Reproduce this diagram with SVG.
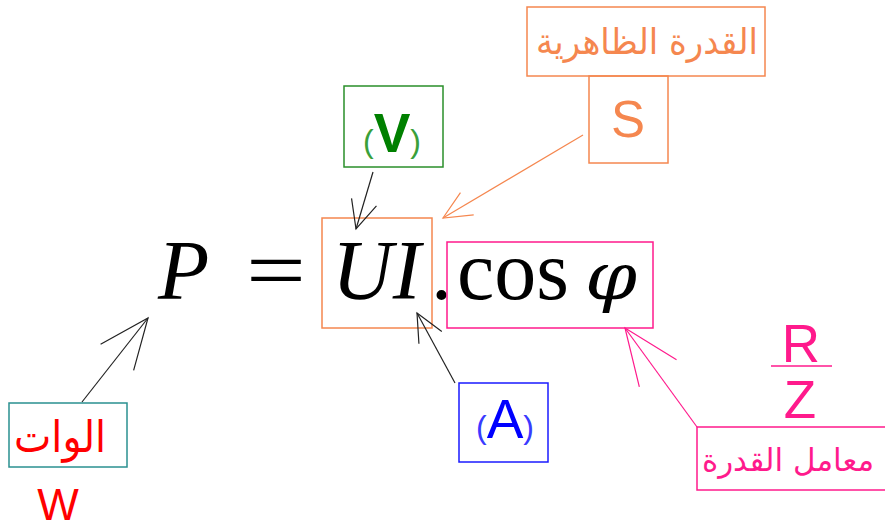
<svg xmlns="http://www.w3.org/2000/svg" width="885" height="529" viewBox="0 0 885 529">
<style>
.box{fill:none;stroke-width:1.5}
.math{font-family:"Liberation Serif","Times New Roman",serif;font-size:84px;fill:#000}
.it{font-style:italic}
.sans{font-family:"Liberation Sans",Arial,sans-serif}
.ar{font-family:"DejaVu Sans","Noto Sans",sans-serif}
.conn{fill:none;stroke-width:1.2}
</style>
<defs>
<marker id="hs-black" markerUnits="userSpaceOnUse" markerWidth="32" markerHeight="30" refX="30" refY="15" orient="auto" viewBox="0 0 32 30"><path d="M2,2 L30,15 L2,28" fill="none" stroke="#222" stroke-width="1.2"/></marker>
<marker id="hs-orange" markerUnits="userSpaceOnUse" markerWidth="32" markerHeight="30" refX="30" refY="15" orient="auto" viewBox="0 0 32 30"><path d="M2,2 L30,15 L2,28" fill="none" stroke="#f5874f" stroke-width="1.2"/></marker>
<marker id="hl-black" markerUnits="userSpaceOnUse" markerWidth="54" markerHeight="48" refX="52" refY="24" orient="auto" viewBox="0 0 54 48"><path d="M2,3 L52,24 L2,45" fill="none" stroke="#222" stroke-width="1.2"/></marker>
<marker id="hl-pink" markerUnits="userSpaceOnUse" markerWidth="60" markerHeight="52" refX="58" refY="26" orient="auto" viewBox="0 0 60 52"><path d="M2,3 L58,26 L2,49" fill="none" stroke="#ff1a8c" stroke-width="1.2"/></marker>
</defs>
<rect width="885" height="529" fill="#fff"/>

<g id="formula">
<text class="math it" x="158" y="299">P</text>
<text class="math" x="246" y="299" textLength="60" lengthAdjust="spacingAndGlyphs">=</text>
<text class="math it" x="332" y="299">UI</text>
<text class="math" x="431" y="299">.</text>
<text class="math" x="457" y="299">cos</text>
<text x="585" y="299" font-family="'DejaVu Serif',serif" font-style="italic" font-size="66" fill="#000" textLength="52" lengthAdjust="spacingAndGlyphs">φ</text>
</g>

<g id="node-apparent-label">
<rect class="box" x="527" y="7" width="238" height="69" stroke="#f5874f"/>
<text class="ar" x="647" y="54" font-size="36" fill="#f5874f" text-anchor="middle" textLength="222" lengthAdjust="spacingAndGlyphs" direction="rtl">القدرة الظاهرية</text>
</g>
<g id="node-S">
<rect class="box" x="589" y="76" width="79" height="87" stroke="#f5874f"/>
<text class="sans" x="628" y="137" font-size="51" fill="#f5874f" text-anchor="middle">S</text>
</g>
<g id="node-V">
<rect class="box" x="344" y="86" width="99" height="81" stroke="#2a8f2a"/>
<text class="sans" x="392" y="152" text-anchor="middle" fill="#008000"><tspan font-size="32" fill="#3aa03a">(</tspan><tspan font-size="55" font-weight="bold">V</tspan><tspan font-size="32" fill="#3aa03a">)</tspan></text>
</g>
<g id="node-UI">
<rect class="box" x="322" y="218" width="110" height="110" stroke="#f5874f"/>
</g>
<g id="node-cos">
<rect class="box" x="447" y="242" width="206" height="86" stroke="#ff1a8c"/>
</g>
<g id="node-A">
<rect class="box" x="459" y="383" width="89" height="79" stroke="#1a1aff"/>
<text class="sans" x="505" y="438" text-anchor="middle" fill="#0000ff"><tspan font-size="32" fill="#3a3aff">(</tspan><tspan font-size="55">A</tspan><tspan font-size="32" fill="#3a3aff">)</tspan></text>
</g>
<g id="node-W">
<rect class="box" x="9" y="403" width="118" height="64" stroke="#2a9090"/>
<text class="ar" x="60" y="452" font-size="44" fill="#ff0000" text-anchor="middle" textLength="92" lengthAdjust="spacingAndGlyphs" direction="rtl">الوات</text>
<text class="sans" x="58" y="520" font-size="44" fill="#ff0000" text-anchor="middle">W</text>
</g>
<g id="node-RZ">
<text class="sans" x="801" y="362" font-size="53" fill="#ff1a8c" text-anchor="middle">R</text>
<line x1="771" y1="366" x2="832" y2="366" stroke="#ff1a8c" stroke-width="1.5"/>
<text class="sans" x="800" y="418" font-size="53" fill="#ff1a8c" text-anchor="middle">Z</text>
</g>
<g id="node-pf">
<path class="box" d="M885,427 H697 V490 H885" stroke="#ff1a8c"/>
<text class="ar" x="788" y="471" font-size="31" fill="#ff1a8c" text-anchor="middle" direction="rtl">معامل القدرة</text>
</g>

<g id="connectors">
<line class="conn" x1="373" y1="172" x2="356" y2="229" stroke="#222" marker-end="url(#hs-black)"/>
<line class="conn" x1="583" y1="135" x2="443" y2="218" stroke="#f5874f" marker-end="url(#hs-orange)"/>
<line class="conn" x1="455" y1="383" x2="417" y2="313" stroke="#222" marker-end="url(#hs-black)"/>
<line class="conn" x1="82" y1="402" x2="148" y2="318" stroke="#222" marker-end="url(#hl-black)"/>
<line class="conn" x1="697" y1="427" x2="625" y2="328" stroke="#ff1a8c" marker-end="url(#hl-pink)"/>
</g>
</svg>
